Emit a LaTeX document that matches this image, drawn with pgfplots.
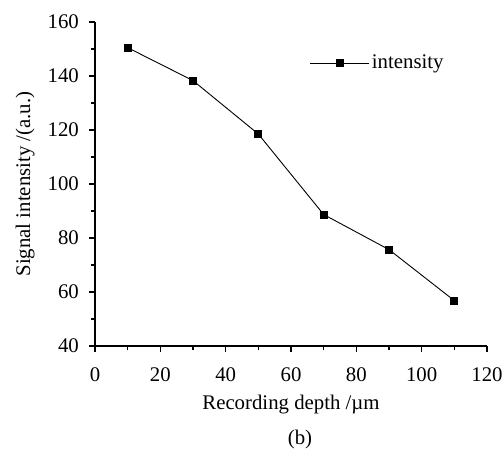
\documentclass[border=0pt]{standalone}
\usepackage{pgfplots}
\pgfplotsset{compat=1.18}
\usepackage{fontspec}
\setmainfont{Liberation Serif}
\newcommand\fsz{\fontsize{20.8}{24}\selectfont}
\begin{document}
\fsz
\begin{tikzpicture}[x=1pt,y=1pt]
\useasboundingbox (-95,-107) rectangle (408,346);
\begin{axis}[
  at={(0,0)}, anchor=origin,
  scale only axis, width=392pt, height=324pt,
  xmin=0, xmax=120, ymin=40, ymax=160,
  axis x line=bottom, axis y line=left,
  axis line style={-, line width=1.5pt},
  xtick={0,20,...,120}, ytick={40,60,...,160},
  minor xtick={10,30,...,110}, minor ytick={50,70,...,150},
  tick align=outside,
  major tick length=6pt, minor tick length=4pt,
  tick style={black, line width=1.2pt},
  /pgf/number format/assume math mode=true,
  ticklabel style={font=\fsz},
  yticklabel style={xshift=-3pt},
  xticklabel style={yshift=-9pt},
  label style={font=\fsz},
  xlabel={Recording depth /µm},
  ylabel={Signal intensity /(a.u.)},
  xlabel style={yshift=1.5pt},
  ylabel style={yshift=-1pt},
  legend style={at={(0.548,0.873)}, anchor=west, draw=none, fill=none,
    font=\fsz, inner sep=0pt},
  legend cell align=left,
  legend image code/.code={\draw[mark repeat=2,mark phase=2] plot coordinates {(0pt,0pt)(29.5pt,0pt)(59pt,0pt)};},
  clip=false,
]
\addplot[black, line width=0.9pt, mark=square*, mark size=3.5pt, mark options={solid}]
  coordinates {(10,150.5) (30,138.3) (50,118.5) (70,88.7) (90,75.7) (110,56.8)};
\addlegendentry{intensity}
\end{axis}
\node at (205,-93) {(b)};
\end{tikzpicture}
\end{document}
